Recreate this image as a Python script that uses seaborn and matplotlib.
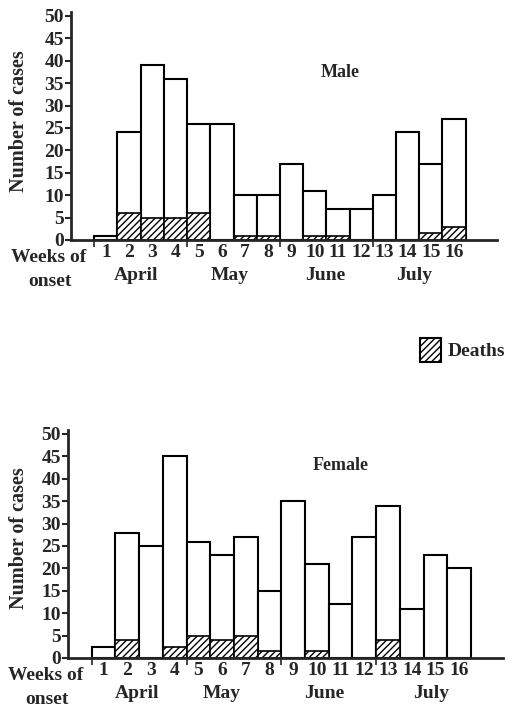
import matplotlib
matplotlib.use("Agg")
import matplotlib.pyplot as plt
import seaborn as sns
from matplotlib.patches import Patch

# weeks of onset (week 1 = early April)
weeks = list(range(1, 17))
week_labels = [str(w) for w in weeks]
months = ["April", "May", "June", "July"]

# cases
male_total = [1, 24, 39, 36, 26, 26, 10, 10, 17, 11, 7, 7, 10, 24, 17, 27]
male_deaths = [0, 6, 5, 5, 6, 0, 1, 1, 0, 1, 1, 0, 0, 0, 1.5, 3]
female_total = [2.5, 28, 25, 45, 26, 23, 27, 15, 35, 21, 12, 27, 34, 11, 23, 20]
female_deaths = [0, 4, 0, 2.5, 5, 4, 5, 1.5, 0, 1.5, 0, 0, 4, 0, 0, 0]

sns.set_style("ticks")
plt.rcParams["font.family"] = ["Liberation Serif", "DejaVu Serif"]
plt.rcParams["font.weight"] = "bold"
plt.rcParams["hatch.linewidth"] = 1.0

fig = plt.figure(figsize=(5.12, 7.10), dpi=100)
W, H = 512, 710
PT = 72 / 100  # pixels -> points


def panel(rect, total, deaths, title, title_xy, month_x):
    left, right, base = rect
    ax = fig.add_axes([left / W, 1 - base / H, (right - left) / W, 228.5 / H])
    sns.barplot(x=weeks, y=total, native_scale=True, width=1, color="white",
                saturation=1, edgecolor="black", linewidth=1.5,
                errorbar=None, ax=ax)
    sns.barplot(x=weeks, y=deaths, native_scale=True, width=1, color="white",
                saturation=1, edgecolor="black", linewidth=1.2, hatch="/////",
                errorbar=None, ax=ax)
    ax.set_xlim(-0.5, 17.85)
    ax.set_ylim(0, 51)
    ax.set_yticks(range(0, 51, 5))
    ax.set_xticks(weeks, week_labels)
    ax.set_xticks([0.5, 4.5, 8.5, 12.5], minor=True)
    ax.tick_params(axis="x", which="major", length=0, pad=3, labelsize=14)
    ax.tick_params(axis="x", which="minor", length=5, width=1.2, direction="out")
    ax.tick_params(axis="y", length=4, width=1.5, pad=1, labelsize=14)
    sns.despine(ax=ax)
    for s in ["left", "bottom"]:
        ax.spines[s].set_linewidth(2)
    ax.set_xlabel("")
    ax.set_ylabel("")
    ax.text(title_xy[0], title_xy[1], title, fontsize=13, ha="center", va="center")
    for m, mx in zip(months, month_x):
        ax.annotate(m, (mx, 0), xycoords=("data", "axes fraction"),
                    xytext=(0, -36 * PT), textcoords="offset points",
                    ha="center", va="center", fontsize=14)
    ax.annotate("Weeks of", (0, 0), xycoords="axes fraction", xytext=(-22 * PT, -18 * PT),
                textcoords="offset points", ha="center", va="center", fontsize=14)
    ax.annotate("onset", (0, 0), xycoords="axes fraction", xytext=(-21 * PT, -41 * PT),
                textcoords="offset points", ha="center", va="center", fontsize=14)
    return ax


ax_m = panel((71, 497, 240), male_total, male_deaths, "Male", (11.1, 37.3),
             [2.3, 6.35, 10.45, 14.3])
ax_f = panel((68, 503, 658), female_total, female_deaths, "Female", (11.0, 43),
             [2.4, 6.0, 10.3, 14.8])

fig.text(19 / W, 1 - 121 / H, "Number of cases", rotation=90, fontsize=14.5,
         ha="center", va="center")
fig.text(19 / W, 1 - 538 / H, "Number of cases", rotation=90, fontsize=14.5,
         ha="center", va="center")

fig.legend(handles=[Patch(facecolor="white", edgecolor="black", hatch="/////", lw=1.5)],
           labels=["Deaths"], loc="center left", bbox_to_anchor=(420 / W, 1 - 350 / H),
           frameon=False, fontsize=14, handlelength=1.1, handleheight=1.55,
           handletextpad=0.3, borderpad=0, borderaxespad=0)

fig.savefig("out.png", dpi=100)
